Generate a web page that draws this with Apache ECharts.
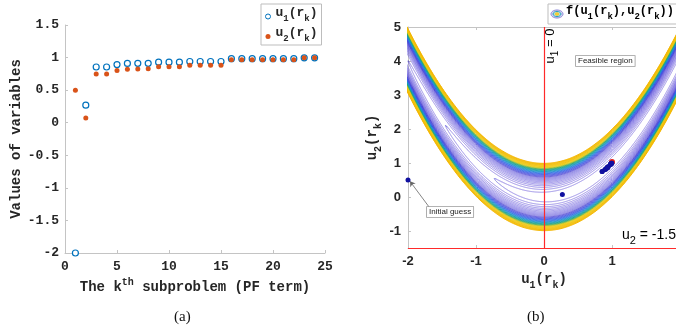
<!DOCTYPE html>
<html>
<head>
<meta charset="utf-8">
<script src="https://cdn.jsdelivr.net/npm/echarts@6/dist/echarts.min.js"></script>
<style>
  html, body { margin: 0; padding: 0; background: #fff; }
  #main { width: 676px; height: 328px; }
</style>
</head>
<body>
<div id="main"></div>
<script>
// (a) iterates of the penalty function method
var kIndex = [1, 2, 3, 4, 5, 6, 7, 8, 9, 10, 11, 12, 13, 14, 15, 16, 17, 18, 19, 20, 21, 22, 23, 24];
var u1Values = [-2, 0.27, 0.855, 0.855, 0.893, 0.91, 0.912, 0.912, 0.93, 0.93, 0.93, 0.94, 0.94, 0.94, 0.94,
                0.983, 0.983, 0.983, 0.983, 0.983, 0.983, 0.983, 0.996, 0.996];
var u2Values = [0.5, 0.074, 0.748, 0.748, 0.8, 0.82, 0.823, 0.828, 0.86, 0.86, 0.86, 0.882, 0.882, 0.882, 0.882,
                0.968, 0.968, 0.968, 0.968, 0.968, 0.968, 0.968, 0.996, 0.996];
var optimumPoint = [1.0, 1.03];

// (b) contour levels of f(u1,u2) = 100 (u2 - u1^2)^2 + (1 - u1)^2
var contourLevels = [3, 6, 9, 12, 15, 18, 21, 24, 27, 30, 33, 36, 39, 42, 45, 48, 51,
                     54, 57, 60, 63, 66, 69, 72, 75, 78, 81, 84, 87, 90, 93, 96, 99];
var rightYTicks = [-1, 0, 1, 2, 3, 4, 5];

var MONO = '"Liberation Mono", "DejaVu Sans Mono", monospace';
var SANS = '"Liberation Sans", Arial, sans-serif';
var INK = '#262626';
var AXIS_GREY = '#c4c4c4';

// b = normal, s = subscript, t = superscript
function monoRich(size, color) {
  var s = Math.round(size * 0.72);
  return {
    b: { fontFamily: MONO, fontWeight: 'bold', fontSize: size, lineHeight: size, color: color,
         verticalAlign: 'bottom', padding: [0, 0, Math.round(size * 0.3), 0] },
    s: { fontFamily: MONO, fontWeight: 'bold', fontSize: s, lineHeight: s, color: color, verticalAlign: 'bottom' },
    t: { fontFamily: MONO, fontWeight: 'bold', fontSize: s, lineHeight: s, color: color,
         verticalAlign: 'bottom', padding: [0, 0, Math.round(size * 0.75), 0] }
  };
}
function sansRich(size, color) {
  var s = Math.round(size * 0.75);
  return {
    b: { fontFamily: SANS, fontSize: size, lineHeight: size, color: color,
         verticalAlign: 'bottom', padding: [0, 0, Math.round(size * 0.3), 0] },
    s: { fontFamily: SANS, fontSize: s, lineHeight: s, color: color, verticalAlign: 'bottom' }
  };
}

// colour ramp for the contour levels (inner lavender -> blue -> green -> yellow)
var ramp = [
  [0.00, [120, 104, 222]], [0.25, [102, 88, 222]], [0.36, [82, 72, 212]],
  [0.44, [60, 80, 225]], [0.50, [45, 105, 228]], [0.56, [25, 145, 205]],
  [0.62, [20, 160, 165]], [0.68, [40, 165, 115]], [0.73, [150, 190, 50]],
  [0.77, [238, 204, 22]], [1.00, [244, 182, 4]]
];
function rampColor(t) {
  t = Math.max(0, Math.min(1, t));
  for (var i = 1; i < ramp.length; i++) {
    if (t <= ramp[i][0]) {
      var a = ramp[i - 1], b = ramp[i];
      var f = (t - a[0]) / (b[0] - a[0]);
      var c = a[1].map(function (v, j) { return Math.round(v + (b[1][j] - v) * f); });
      return 'rgb(' + c.join(',') + ')';
    }
  }
  return 'rgb(244,182,4)';
}

// level set of f = L, traced as u1 = 1 + sqrt(L) cos(th), u2 = u1^2 + sqrt(L) sin(th) / 10
function contourPaths(level) {
  var r = Math.sqrt(level);
  var segs = [], cur = [];
  var n = 4000;
  for (var i = 0; i <= n; i++) {
    var th = 2 * Math.PI * i / n;
    var x = 1 + r * Math.cos(th);
    var y = x * x + r * Math.sin(th) / 10;
    if (x >= -2.05 && x <= 2.1 && y >= -1.6 && y <= 5.1) {
      cur.push([x, y]);
    } else {
      if (cur.length > 1) segs.push(cur);
      cur = [];
    }
  }
  if (cur.length > 1) segs.push(cur);
  return segs;
}

var contourData = [];
contourLevels.forEach(function (L) {
  var t = L / 100;
  var col = rampColor(t);
  var w = t < 0.36 ? 0.7 : 1;
  contourPaths(L).forEach(function (seg) {
    contourData.push({ coords: seg, lineStyle: { color: col, width: w } });
  });
});

var legendNames = {
  u1: '{b|u}{s|1}{b|(r}{s|k}{b|)}',
  u2: '{b|u}{s|2}{b|(r}{s|k}{b|)}'
};

var axisCommon = {
  axisLine: { show: true, onZero: false, lineStyle: { color: AXIS_GREY, width: 1 } },
  axisTick: { show: true, inside: true, length: 3, lineStyle: { color: AXIS_GREY } },
  splitLine: { show: false }
};

var chart = echarts.init(document.getElementById('main'), null, { renderer: 'canvas' });

var option = {
  animation: false,
  backgroundColor: '#fff',
  grid: [
    { left: 65, width: 260, top: 25, height: 228, outerBoundsMode: 'none' },
    { left: 408, width: 272, top: 27, height: 221, outerBoundsMode: 'none' }
  ],
  legend: {
    left: 261, top: 4, orient: 'vertical',
    data: ['u1', 'u2'],
    formatter: function (name) { return legendNames[name]; },
    itemWidth: 5, itemHeight: 5, itemGap: 3,
    padding: [2, 4, 2, 4],
    borderColor: '#bdbdbd', borderWidth: 1, backgroundColor: '#fff',
    itemStyle: { borderWidth: 1 },
    textStyle: { rich: monoRich(13, INK) }
  },
  xAxis: [
    Object.assign({
      gridIndex: 0, type: 'value', min: 0, max: 25, interval: 5,
      axisLabel: { fontFamily: MONO, fontWeight: 'bold', fontSize: 13, color: INK, margin: 7 },
      name: '{b|The k}{t|th}{b| subproblem (PF term)}',
      nameLocation: 'middle', nameGap: 28,
      nameTextStyle: { rich: monoRich(14, INK) }
    }, axisCommon),
    Object.assign({
      gridIndex: 1, type: 'value', min: -2, max: 2, interval: 1,
      axisLabel: { fontFamily: SANS, fontWeight: 'bold', fontSize: 13, color: INK, margin: 7 },
      name: '{b|u}{s|1}{b|(r}{s|k}{b|)}',
      nameLocation: 'middle', nameGap: 28,
      nameTextStyle: { rich: monoRich(14, INK) }
    }, axisCommon),
    Object.assign({
      gridIndex: 1, type: 'value', min: -2, max: 2, interval: 1, position: 'top',
      axisLabel: { show: false }
    }, axisCommon)
  ],
  yAxis: [
    Object.assign({
      gridIndex: 0, type: 'value', min: -2, max: 1.5, interval: 0.5,
      axisLabel: { fontFamily: MONO, fontWeight: 'bold', fontSize: 13, color: INK, margin: 6 },
      name: 'Values of variables',
      nameLocation: 'middle', nameGap: 39, nameRotate: 90,
      nameTextStyle: { fontFamily: MONO, fontWeight: 'bold', fontSize: 14, color: INK }
    }, axisCommon),
    Object.assign({
      gridIndex: 1, type: 'value', min: -1.5, max: 5,
      axisLabel: { fontFamily: SANS, fontWeight: 'bold', fontSize: 13, color: INK, margin: 7,
                   customValues: rightYTicks },
      axisTick: { show: true, inside: true, length: 3, lineStyle: { color: AXIS_GREY },
                  customValues: rightYTicks },
      name: '{b|u}{s|2}{b|(r}{s|k}{b|)}',
      nameLocation: 'middle', nameGap: 25, nameRotate: 90,
      nameTextStyle: { rich: monoRich(14, INK) }
    }, {
      axisLine: axisCommon.axisLine, splitLine: axisCommon.splitLine
    })
  ],
  series: [
    {
      name: 'u1', type: 'scatter', xAxisIndex: 0, yAxisIndex: 0,
      symbol: 'circle', symbolSize: 6,
      itemStyle: { color: '#fff', borderColor: '#0072BD', borderWidth: 1.2, opacity: 1 },
      data: kIndex.map(function (k, i) { return [k, u1Values[i]]; }),
      z: 3
    },
    {
      name: 'u2', type: 'scatter', xAxisIndex: 0, yAxisIndex: 0,
      symbol: 'circle', symbolSize: 5,
      itemStyle: { color: '#D95319', opacity: 1 },
      data: kIndex.map(function (k, i) { return [k, u2Values[i]]; }),
      z: 4
    },
    {
      name: 'f', type: 'lines', coordinateSystem: 'cartesian2d', xAxisIndex: 1, yAxisIndex: 1,
      polyline: true, clip: true, silent: true, large: false,
      lineStyle: { width: 0.6, opacity: 1 },
      data: contourData,
      z: 1
    },
    {
      name: 'optimum', type: 'scatter', xAxisIndex: 1, yAxisIndex: 1,
      symbolSize: 6, itemStyle: { color: '#e0201c', opacity: 1 },
      data: [optimumPoint], z: 5, silent: true
    },
    {
      name: 'iterates', type: 'scatter', xAxisIndex: 1, yAxisIndex: 1,
      symbolSize: 5, itemStyle: { color: '#1010a0', opacity: 1 },
      data: u1Values.map(function (v, i) { return [v, u2Values[i]]; }),
      z: 6, silent: true,
      markLine: {
        silent: true, symbol: 'none', animation: false,
        label: { show: false },
        lineStyle: { color: '#ff2a2a', width: 1.2, type: 'solid' },
        data: [
          { xAxis: 0 },
          { yAxis: -1.5 },
          [
            { coord: [-1.68, -0.32], symbol: 'none', lineStyle: { color: '#666', width: 0.8 } },
            { coord: [-1.97, 0.46], symbol: 'arrow', symbolSize: 5 }
          ]
        ]
      }
    }
  ],
  graphic: [
    { type: 'text', left: 174, top: 310,
      style: { text: '(a)', font: '15px "Liberation Serif", serif', fill: '#111' } },
    { type: 'text', left: 527, top: 310,
      style: { text: '(b)', font: '15px "Liberation Serif", serif', fill: '#111' } },
    // legend of (b)
    { type: 'rect', shape: { x: 548, y: 4, width: 140, height: 20 },
      style: { fill: '#fff', stroke: '#bdbdbd', lineWidth: 1 }, z: 20 },
    { type: 'ellipse', shape: { cx: 557, cy: 14, rx: 6, ry: 4 },
      style: { fill: '#d8d4f2', stroke: '#8c86d8', lineWidth: 1 }, z: 21 },
    { type: 'ellipse', shape: { cx: 557, cy: 14, rx: 4, ry: 2.6 },
      style: { fill: '#b8e6e0', stroke: '#2aa0c0', lineWidth: 1 }, z: 21 },
    { type: 'ellipse', shape: { cx: 557, cy: 14, rx: 2, ry: 1.3 },
      style: { fill: '#f5d23a', stroke: '#f0c020', lineWidth: 0.8 }, z: 21 },
    { type: 'text', x: 566, y: 21, z: 21,
      style: { text: '{b|f(u}{s|1}{b|(r}{s|k}{b|),u}{s|2}{b|(r}{s|k}{b|))}',
               rich: monoRich(12, '#111'), verticalAlign: 'bottom' } },
    // constraint labels
    { type: 'text', x: 554, y: 46, rotation: Math.PI / 2, z: 21,
      style: { text: '{b|u}{s|1}{b| = 0}', rich: sansRich(13, '#ff1a1a'),
               align: 'center', verticalAlign: 'middle' } },
    { type: 'text', x: 622, y: 246, z: 21,
      style: { text: '{b|u}{s|2}{b| = -1.5}', rich: sansRich(14, '#ff1a1a'), verticalAlign: 'bottom' } },
    // annotation boxes
    { type: 'text', x: 576, y: 56, z: 21,
      style: { text: 'Feasible region', font: '8px "Liberation Sans", Arial, sans-serif', fill: '#222',
               backgroundColor: '#fff', borderColor: '#9a9a9a', borderWidth: 0.8, padding: [1, 2, 1, 2] } },
    { type: 'text', x: 427, y: 207, z: 21,
      style: { text: 'Initial guess', font: '8px "Liberation Sans", Arial, sans-serif', fill: '#222',
               backgroundColor: '#fff', borderColor: '#9a9a9a', borderWidth: 0.8, padding: [1, 2, 1, 2] } }
  ]
};

chart.setOption(option);
</script>
</body>
</html>
